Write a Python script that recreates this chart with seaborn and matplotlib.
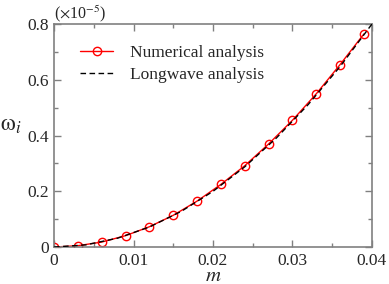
import seaborn as sns
import matplotlib.pyplot as plt
from matplotlib.ticker import MultipleLocator

# numerical analysis (circles)
m_num = [0.0, 0.003, 0.006, 0.009, 0.012, 0.015, 0.018, 0.021, 0.024, 0.027, 0.030, 0.033, 0.036, 0.039]
w_num = [0.0, 0.005, 0.018, 0.041, 0.073, 0.114, 0.165, 0.225, 0.292, 0.370, 0.455, 0.550, 0.655, 0.765]

# longwave analysis (dashed)
m_lw = [0.0, 0.004, 0.008, 0.012, 0.016, 0.020, 0.024, 0.028, 0.032, 0.036, 0.040]
w_lw = [0.0, 0.008, 0.032, 0.072, 0.128, 0.200, 0.288, 0.392, 0.512, 0.648, 0.800]

xticks = [0, 0.01, 0.02, 0.03, 0.04]
xticklabels = ["0", "0.01", "0.02", "0.03", "0.04"]
yticks = [0, 0.2, 0.4, 0.6, 0.8]
yticklabels = ["0", "0.2", "0.4", "0.6", "0.8"]

sns.set_style("ticks")
plt.rcParams["font.family"] = ["Liberation Serif"]
plt.rcParams["mathtext.fontset"] = "stix"

fig = plt.figure(figsize=(3.89, 2.84), dpi=100)
ax = fig.add_axes([0.139, 0.130, 0.817, 0.785])

sns.lineplot(x=m_num, y=w_num, ax=ax, color="red", lw=1.0, marker="o", markersize=6,
             markerfacecolor="none", markeredgecolor="red", markeredgewidth=1.0,
             label="Numerical analysis", zorder=2)
sns.lineplot(x=m_lw, y=w_lw, ax=ax, color="black", lw=1.0, linestyle=(0, (4, 2.5)),
             label="Longwave analysis", zorder=3)

ax.set_xlim(0, 0.04)
ax.set_ylim(0, 0.8)
ax.set_xticks(xticks)
ax.set_xticklabels(xticklabels, fontfamily="Liberation Serif")
ax.set_yticks(yticks)
ax.set_yticklabels(yticklabels, fontfamily="Liberation Serif")
ax.xaxis.set_minor_locator(MultipleLocator(0.005))
ax.yaxis.set_minor_locator(MultipleLocator(0.1))
ax.tick_params(which="both", direction="in", top=True, right=True, color="#808080",
               labelsize=12.5, pad=4)
ax.tick_params(which="major", length=5, width=1)
ax.tick_params(which="minor", length=3, width=1)
for s in ax.spines.values():
    s.set_color("#808080")
    s.set_linewidth(1.2)

ax.set_xlabel(r"$m$", fontsize=15, va="baseline")
ax.xaxis.set_label_coords(0.5, -0.15)
ax.set_ylabel(r"$\mathrm{\omega}_{i}$", fontsize=17, rotation=0)
ax.yaxis.set_label_coords(-0.135, 0.5)
ax.text(0.0, 1.0, r"($\times$10$^{-5}$)", transform=ax.transAxes, fontsize=11.5,
        ha="left", va="bottom")

ax.legend(loc="upper left", frameon=False, fontsize=12.5,
          handlelength=1.9, handletextpad=1.0, borderaxespad=0.0, labelspacing=0.35,
          bbox_to_anchor=(0.06, 0.94))

fig.savefig("out.png", dpi=100)
